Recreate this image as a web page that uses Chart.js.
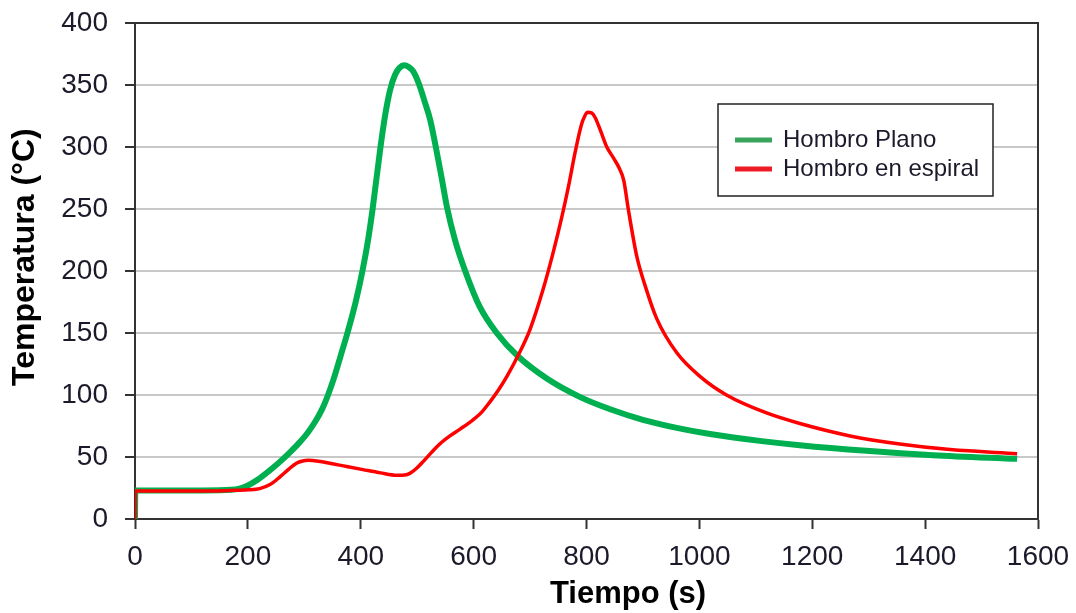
<!DOCTYPE html>
<html>
<head>
<meta charset="utf-8">
<script src="https://cdn.jsdelivr.net/npm/chart.js@4/dist/chart.umd.min.js"></script>
<style>
  html, body { margin: 0; padding: 0; background: #ffffff; }
  #wrap { width: 1076px; height: 613px; position: relative; }
</style>
</head>
<body>
<div id="wrap"><canvas id="c" width="1076" height="613"></canvas></div>
<script>
// Axis tick values
const xTicks = [0, 200, 400, 600, 800, 1000, 1200, 1400, 1600];
const yTicks = [0, 50, 100, 150, 200, 250, 300, 350, 400];

// Series names and axis titles
const seriesNames = ['Hombro Plano', 'Hombro en espiral'];
const xTitle = 'Tiempo (s)';
const yTitle = 'Temperatura (°C)';

// Hombro Plano: time (s) and temperature (°C)
const planoTime = [0, 0.5, 2, 60, 120, 170, 185, 200, 215, 230, 245, 260, 275, 290, 305, 320, 332, 342, 352, 364, 377, 391, 403, 413, 421, 428, 435, 443, 452, 461, 469, 477, 485, 493, 503, 513, 523, 533, 543, 553, 567, 585, 611, 641, 679, 729, 788, 842, 900, 960, 1019, 1107, 1178, 1296, 1414, 1563];
const planoTemp = [0, 23, 23, 23, 23, 23.5, 24.5, 27, 31, 36, 41.5, 47.5, 54, 61, 69, 79, 89, 100, 113, 131, 151, 175, 200, 225, 250, 275, 300, 325, 346, 358.5, 364, 366, 364.5, 361, 351, 337, 322, 300, 276, 251, 225, 200, 171, 150, 131, 113.5, 98.5, 88.5, 80, 73.5, 68.5, 63, 59.5, 55, 51.5, 48.5];

// Hombro en espiral: time (s) and temperature (°C)
const espiralTime = [0, 0.5, 2, 60, 120, 168, 200, 221, 240, 257, 272, 286, 297, 307, 325, 345, 375, 404, 435, 464, 478, 487, 498, 511, 525, 540, 558, 576, 599, 614, 629, 644, 659, 679, 700, 723, 741, 756, 768, 780, 791, 797, 802, 809, 815, 825, 836, 848, 859, 866, 874, 889, 904, 924, 960, 1001, 1048, 1119, 1178, 1267, 1355, 1444, 1563];
const espiralTemp = [0, 22.5, 22.5, 22.5, 22.5, 23, 23.5, 24.5, 28, 34, 40, 45, 46.8, 47.3, 46.6, 45, 42.3, 39.8, 37.2, 35.3, 35.5, 36.8, 40.5, 46.5, 53.5, 60.5, 67, 72.5, 80, 86, 94.5, 104, 115, 132, 153, 185, 215, 243, 268, 296, 318, 325, 328, 327.5, 324, 313, 300, 291, 282, 273, 250, 212, 188, 162, 134, 115, 100, 85.5, 77, 67, 60.5, 56, 52.7];

const seriesColors = ['#00b050', '#ff0000'];
const legendColors = ['#3aa35c', '#ee1c25'];

const toPoints = (xs, ys) => xs.map((x, i) => ({ x: x, y: ys[i] }));

const FONT = "'Liberation Sans', Arial, sans-serif";
const DARK = '#333333';
const TICK_TEXT = '#1a1a2a';

// Right edge of the plot frame
const framePlugin = {
  id: 'frame',
  beforeDatasetsDraw(chart) {
    const { ctx, chartArea: a } = chart;
    ctx.save();
    ctx.strokeStyle = DARK;
    ctx.lineWidth = 2;
    ctx.beginPath();
    ctx.moveTo(a.right, a.top - 1);
    ctx.lineTo(a.right, a.bottom);
    ctx.stroke();
    ctx.restore();
  }
};

// Axis titles, placed relative to the plot area
const axisTitlePlugin = {
  id: 'axisTitles',
  afterDraw(chart) {
    const { ctx, chartArea: a } = chart;
    ctx.save();
    ctx.fillStyle = '#000000';
    ctx.font = 'bold 31px ' + FONT;
    ctx.textAlign = 'center';
    ctx.textBaseline = 'middle';
    ctx.fillText(xTitle, a.left + 0.546 * (a.right - a.left), 594);
    ctx.font = 'bold 32px ' + FONT;
    ctx.translate(25, a.top + 0.472 * (a.bottom - a.top));
    ctx.rotate(-Math.PI / 2);
    ctx.fillText(yTitle, 0, 0);
    ctx.restore();
  }
};

// Boxed legend inside the plot area
const boxLegendPlugin = {
  id: 'boxLegend',
  afterDraw(chart) {
    const { ctx, chartArea: a } = chart;
    const bx = a.left + 583, by = a.top + 81, bw = 275, bh = 92;
    ctx.save();
    ctx.fillStyle = '#ffffff';
    ctx.fillRect(bx, by, bw, bh);
    ctx.strokeStyle = '#222222';
    ctx.lineWidth = 1.5;
    ctx.strokeRect(bx, by, bw, bh);
    ctx.font = '24px ' + FONT;
    ctx.textBaseline = 'middle';
    ctx.textAlign = 'left';
    chart.data.datasets.forEach((ds, i) => {
      const y = by + 36 + i * 29;
      ctx.strokeStyle = legendColors[i];
      ctx.lineWidth = 5;
      ctx.beginPath();
      ctx.moveTo(bx + 17, y);
      ctx.lineTo(bx + 54, y);
      ctx.stroke();
      ctx.fillStyle = TICK_TEXT;
      ctx.fillText(ds.label, bx + 65, y);
    });
    ctx.restore();
  }
};

new Chart(document.getElementById('c'), {
  type: 'line',
  data: {
    datasets: [
      {
        label: seriesNames[0],
        data: toPoints(planoTime, planoTemp),
        borderColor: seriesColors[0],
        borderWidth: 6,
        pointRadius: 0,
        cubicInterpolationMode: 'monotone',
        fill: false,
        order: 1
      },
      {
        label: seriesNames[1],
        data: toPoints(espiralTime, espiralTemp),
        borderColor: seriesColors[1],
        borderWidth: 3.5,
        pointRadius: 0,
        cubicInterpolationMode: 'monotone',
        fill: false,
        order: 0
      }
    ]
  },
  options: {
    responsive: false,
    animation: false,
    devicePixelRatio: 1,
    layout: { padding: { top: 23, right: 38, left: 0, bottom: 0 } },
    plugins: {
      legend: { display: false },
      tooltip: { enabled: false }
    },
    scales: {
      x: {
        type: 'linear',
        min: xTicks[0],
        max: xTicks[xTicks.length - 1],
        afterBuildTicks: s => { s.ticks = xTicks.map(v => ({ value: v })); },
        afterFit: s => { s.height = 94; s.paddingLeft = 0; s.paddingRight = 0; },
        grid: { drawOnChartArea: false, drawTicks: true, tickLength: 10, tickColor: DARK, tickWidth: 2 },
        border: { color: DARK, width: 2 },
        ticks: { font: { family: FONT, size: 28 }, color: TICK_TEXT, padding: 11, maxRotation: 0, callback: v => String(v) }
      },
      y: {
        type: 'linear',
        min: yTicks[0],
        max: yTicks[yTicks.length - 1],
        afterBuildTicks: s => { s.ticks = yTicks.map(v => ({ value: v })); },
        afterFit: s => { s.width = 135; s.paddingTop = 0; s.paddingBottom = 0; },
        grid: {
          color: c => (c.tick && c.tick.value === 400 ? DARK : '#c8c8c8'),
          lineWidth: 2,
          tickLength: 10,
          tickColor: DARK,
          tickWidth: 2
        },
        border: { color: DARK, width: 2 },
        ticks: { font: { family: FONT, size: 28 }, color: TICK_TEXT, padding: 17, callback: v => String(v) }
      }
    }
  },
  plugins: [framePlugin, axisTitlePlugin, boxLegendPlugin]
});
</script>
</body>
</html>
